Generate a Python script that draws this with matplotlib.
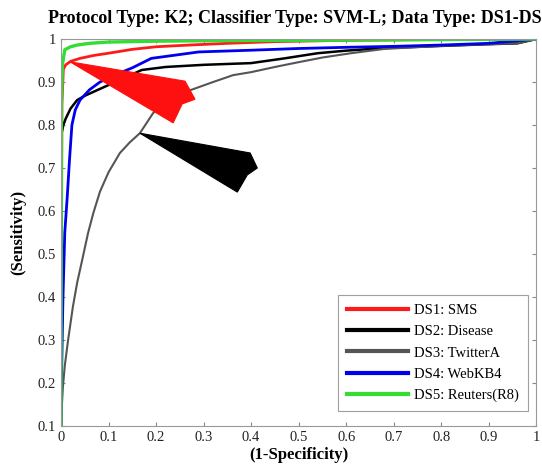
import matplotlib
matplotlib.use("Agg")
import matplotlib.pyplot as plt
from matplotlib.patches import Polygon

plt.rcParams['font.family'] = ['Liberation Serif', 'DejaVu Serif']

# ---- data ----
labels = ["DS1: SMS", "DS2: Disease", "DS3: TwitterA", "DS4: WebKB4", "DS5: Reuters(R8)"]
colors = ["#ff1a1a", "#000000", "#555555", "#0000ee", "#33dd33"]
widths = [2.0, 1.8, 1.5, 2.0, 2.4]

ds1_x = [0, 0.002, 0.005, 0.01, 0.02, 0.04, 0.07, 0.1, 0.15, 0.2, 0.27, 0.35, 0.45, 0.6, 0.8, 1.0]
ds1_y = [0.1, 0.85, 0.93, 0.94, 0.948, 0.955, 0.962, 0.967, 0.976, 0.982, 0.986, 0.99, 0.994, 0.997, 0.999, 1.0]

ds2_x = [0, 0.001, 0.005, 0.01, 0.02, 0.034, 0.05, 0.07, 0.1, 0.14, 0.17, 0.22, 0.3, 0.4, 0.47, 0.54, 0.6, 0.68, 0.8, 0.9, 0.96, 1.0]
ds2_y = [0.1, 0.78, 0.80, 0.815, 0.838, 0.858, 0.868, 0.878, 0.893, 0.913, 0.928, 0.935, 0.94, 0.944, 0.955, 0.967, 0.973, 0.979, 0.984, 0.988, 0.99, 1.0]

ds3_x = [0, 0.002, 0.004, 0.008, 0.015, 0.025, 0.034, 0.046, 0.057, 0.068, 0.082, 0.1, 0.124, 0.145, 0.166, 0.194,
         0.23, 0.272, 0.32, 0.362, 0.4, 0.45, 0.49, 0.55, 0.61, 0.68, 0.8, 0.9, 0.96, 1.0]
ds3_y = [0.1, 0.15, 0.19, 0.24, 0.30, 0.377, 0.433, 0.493, 0.549, 0.595, 0.645, 0.69, 0.735, 0.76, 0.781, 0.828,
         0.86, 0.881, 0.9, 0.916, 0.923, 0.935, 0.944, 0.957, 0.967, 0.977, 0.984, 0.988, 0.99, 1.0]

ds4_x = [0, 0.001, 0.004, 0.008, 0.013, 0.018, 0.023, 0.03, 0.04, 0.06, 0.082, 0.11, 0.15, 0.19, 0.29, 0.4, 0.5, 0.61, 0.7, 0.8, 0.9, 1.0]
ds4_y = [0.1, 0.2, 0.39, 0.55, 0.63, 0.72, 0.8, 0.835, 0.858, 0.882, 0.9, 0.915, 0.933, 0.955, 0.97, 0.974, 0.978, 0.981, 0.983, 0.986, 0.99, 1.0]

ds5_x = [0, 0.001, 0.003, 0.008, 0.02, 0.034, 0.06, 0.1, 0.2, 0.3, 0.5, 0.7, 1.0]
ds5_y = [0.1, 0.85, 0.94, 0.975, 0.982, 0.986, 0.99, 0.993, 0.995, 0.996, 0.997, 0.998, 1.0]

series_x = [ds1_x, ds2_x, ds3_x, ds4_x, ds5_x]
series_y = [ds1_y, ds2_y, ds3_y, ds4_y, ds5_y]

xticks = [0, 0.1, 0.2, 0.3, 0.4, 0.5, 0.6, 0.7, 0.8, 0.9, 1]
xticklabels = ["0", "0.1", "0.2", "0.3", "0.4", "0.5", "0.6", "0.7", "0.8", "0.9", "1"]
yticks = [0.1, 0.2, 0.3, 0.4, 0.5, 0.6, 0.7, 0.8, 0.9, 1]
yticklabels = ["0.1", "0.2", "0.3", "0.4", "0.5", "0.6", "0.7", "0.8", "0.9", "1"]

# annotation arrows (notched wedge outlines): tip first, then tail profile
red_arrow_x = [0.019, 0.261, 0.282, 0.255, 0.236]
red_arrow_y = [0.947, 0.902, 0.860, 0.849, 0.805]
black_arrow_x = [0.166, 0.398, 0.413, 0.392, 0.371]
black_arrow_y = [0.781, 0.735, 0.700, 0.684, 0.644]

# ---- figure ----
fig = plt.figure(figsize=(5.42, 4.76), dpi=100)
ax = fig.add_axes([0.1125, 0.105, 0.877, 0.813])

for xs, ys, c, lab, lw in zip(series_x, series_y, colors, labels, widths):
    ax.plot(xs, ys, color=c, lw=lw, label=lab, solid_joinstyle='round')

ax.add_patch(Polygon(list(zip(red_arrow_x, red_arrow_y)), closed=True,
                     fc="#ff1010", ec="#ff1010", lw=0.8, zorder=5))
ax.add_patch(Polygon(list(zip(black_arrow_x, black_arrow_y)), closed=True,
                     fc="black", ec="black", lw=0.8, zorder=5))

ax.set_xlim(0, 1)
ax.set_ylim(0.1, 1)
ax.set_xticks(xticks)
ax.set_xticklabels(xticklabels)
ax.set_yticks(yticks)
ax.set_yticklabels(yticklabels)
ax.tick_params(direction='in', top=True, right=True, length=3, labelsize=10.5,
               color='#888888', labelcolor='#222222')
for s in ax.spines.values():
    s.set_color('#999999')
    s.set_linewidth(0.8)

ax.set_xlabel("(1-Specificity)", fontsize=12, fontweight='bold', labelpad=2)
ax.set_ylabel("(Sensitivity)", fontsize=12, fontweight='bold', labelpad=8)

fig.text(0.089, 0.962, "Protocol Type: K2; Classifier Type: SVM-L; Data Type: DS1-DS5",
         fontsize=13, fontweight='bold', ha='left', va='center')

leg = ax.legend(loc='lower right', fontsize=10.5, handlelength=4.2, frameon=True,
                fancybox=False, borderpad=0.6, labelspacing=0.55, handletextpad=0.4,
                bbox_to_anchor=(0.997, 0.02))
leg.get_frame().set_edgecolor('#888888')
leg.get_frame().set_linewidth(0.8)
for line in leg.get_lines():
    line.set_linewidth(3)

fig.savefig("out.png", dpi=100)
